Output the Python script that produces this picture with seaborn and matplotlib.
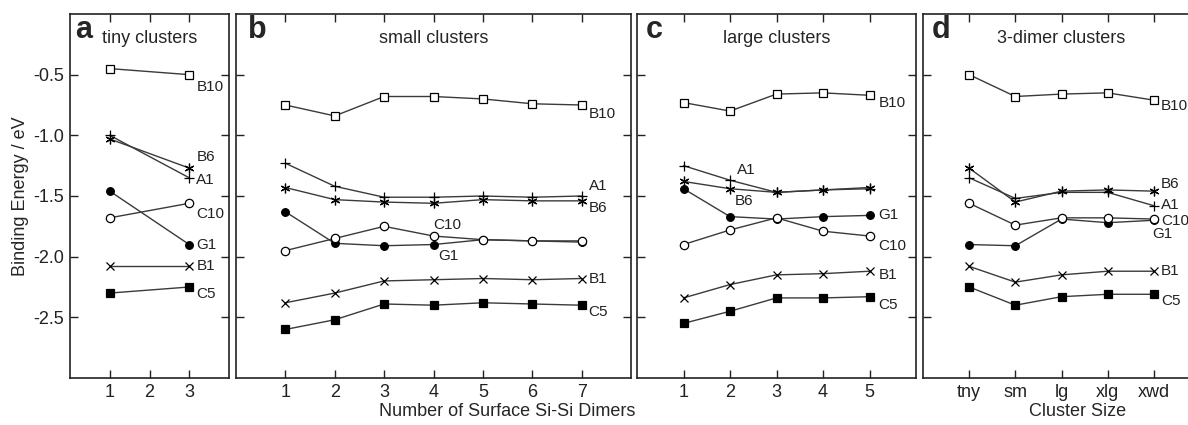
import matplotlib
matplotlib.use('Agg')
import matplotlib.pyplot as plt
import seaborn as sns
import pandas as pd

# Binding energies (eV)
series = ['B10', 'A1', 'B6', 'G1', 'C10', 'B1', 'C5']

# a: tiny clusters
a_x = [1, 3]
a_B10 = [-0.45, -0.50]
a_A1 = [-1.00, -1.35]
a_B6 = [-1.03, -1.27]
a_G1 = [-1.46, -1.90]
a_C10 = [-1.68, -1.56]
a_B1 = [-2.08, -2.08]
a_C5 = [-2.30, -2.25]

# b: small clusters
b_x = [1, 2, 3, 4, 5, 6, 7]
b_B10 = [-0.75, -0.84, -0.68, -0.68, -0.70, -0.74, -0.75]
b_A1 = [-1.23, -1.42, -1.51, -1.51, -1.50, -1.51, -1.50]
b_B6 = [-1.43, -1.53, -1.55, -1.56, -1.53, -1.54, -1.54]
b_G1 = [-1.63, -1.89, -1.91, -1.90, -1.86, -1.87, -1.88]
b_C10 = [-1.95, -1.85, -1.75, -1.83, -1.86, -1.87, -1.87]
b_B1 = [-2.38, -2.30, -2.20, -2.19, -2.18, -2.19, -2.18]
b_C5 = [-2.60, -2.52, -2.39, -2.40, -2.38, -2.39, -2.40]

# c: large clusters
c_x = [1, 2, 3, 4, 5]
c_B10 = [-0.73, -0.80, -0.66, -0.65, -0.67]
c_A1 = [-1.25, -1.37, -1.47, -1.45, -1.44]
c_B6 = [-1.38, -1.44, -1.47, -1.45, -1.43]
c_G1 = [-1.44, -1.67, -1.69, -1.67, -1.66]
c_C10 = [-1.90, -1.78, -1.68, -1.79, -1.83]
c_B1 = [-2.34, -2.23, -2.15, -2.14, -2.12]
c_C5 = [-2.55, -2.45, -2.34, -2.34, -2.33]

# d: 3-dimer clusters
d_sizes = ['tny', 'sm', 'lg', 'xlg', 'xwd']
d_B10 = [-0.50, -0.68, -0.66, -0.65, -0.71]
d_A1 = [-1.35, -1.52, -1.47, -1.47, -1.58]
d_B6 = [-1.27, -1.55, -1.46, -1.45, -1.46]
d_G1 = [-1.90, -1.91, -1.69, -1.72, -1.70]
d_C10 = [-1.56, -1.74, -1.68, -1.68, -1.69]
d_B1 = [-2.08, -2.21, -2.15, -2.12, -2.12]
d_C5 = [-2.25, -2.40, -2.33, -2.31, -2.31]
d_x = list(range(1, len(d_sizes) + 1))

panels = [
    ('a', 'tiny clusters', a_x, [a_B10, a_A1, a_B6, a_G1, a_C10, a_B1, a_C5]),
    ('b', 'small clusters', b_x, [b_B10, b_A1, b_B6, b_G1, b_C10, b_B1, b_C5]),
    ('c', 'large clusters', c_x, [c_B10, c_A1, c_B6, c_G1, c_C10, c_B1, c_C5]),
    ('d', '3-dimer clusters', d_x, [d_B10, d_A1, d_B6, d_G1, d_C10, d_B1, d_C5]),
]

# marker look per series
marker_styles = {
    'B10': dict(marker='s', markersize=6, markerfacecolor='white'),
    'A1': dict(marker='+', markersize=7),
    'B6': dict(marker=(6, 2, 0), markersize=7),
    'G1': dict(marker='o', markersize=5.5, markerfacecolor='black'),
    'C10': dict(marker='o', markersize=6, markerfacecolor='white'),
    'B1': dict(marker='x', markersize=6),
    'C5': dict(marker='s', markersize=5.5, markerfacecolor='black'),
}

# label placement: (point index, dx px, dy px)
label_pos = {
    'a': {'B10': (-1, 7, -12), 'A1': (-1, 7, -2), 'B6': (-1, 7, 11), 'G1': (-1, 7, 0),
          'C10': (-1, 7, -11), 'B1': (-1, 7, 0), 'C5': (-1, 7, -7)},
    'b': {'B10': (-1, 7, -9), 'A1': (-1, 7, 10), 'B6': (-1, 7, -7), 'G1': (3, 5, -11),
          'C10': (3, 0, 11), 'B1': (-1, 7, 0), 'C5': (-1, 7, -7)},
    'c': {'B10': (-1, 9, -8), 'A1': (1, 7, 10), 'B6': (1, 5, -12), 'G1': (-1, 9, 0),
          'C10': (-1, 9, -10), 'B1': (-1, 9, -4), 'C5': (-1, 9, -8)},
    'd': {'B10': (-1, 7, -6), 'A1': (-1, 7, 1), 'B6': (-1, 7, 7), 'G1': (-1, -2, -14),
          'C10': (-1, 7, -1.5), 'B1': (-1, 7, 0), 'C5': (-1, 7, -7)},
}

sns.set_style('ticks')
plt.rcParams['font.family'] = ['Liberation Sans', 'DejaVu Sans']
plt.rcParams['axes.unicode_minus'] = False

fig = plt.figure(figsize=(11.88, 4.25), dpi=100)

# axes boxes in pixels (left, right); panel d runs off the right edge
boxes = [(70, 229), (236, 631), (637, 916), (923, 1200)]
W, H = 1188, 425
bottom, top = 378, 14

for (letter, title, xs, vals), (l, r) in zip(panels, boxes):
    ax = fig.add_axes([l / W, (H - bottom) / H, (r - l) / W, (bottom - top) / H])
    for name, ys in zip(series, vals):
        df = pd.DataFrame({'x': xs, 'y': ys})
        sns.lineplot(data=df, x='x', y='y', ax=ax, color='#3a3a3a', linewidth=1.0,
                     markeredgecolor='black', markeredgewidth=0.9,
                     **marker_styles[name])
        idx, dx, dy = label_pos[letter][name]
        ax.annotate(name, xy=(xs[idx], ys[idx]), xytext=(dx, dy),
                    textcoords='offset pixels', ha='left', va='center',
                    fontsize=11, color='#222222')

    ax.set_xlim(0, len(xs) + 1 if letter != 'a' else 4)
    ax.set_ylim(-3.0, 0.0)
    ax.set_xticks(xs if letter != 'a' else [1, 2, 3])
    if letter == 'd':
        ax.set_xticklabels(d_sizes)
    ax.set_yticks([-2.5, -2.0, -1.5, -1.0, -0.5])
    ax.tick_params(direction='in', length=6, width=1, top=True, right=True,
                   labelsize=13, pad=4, colors='#222222')
    for sp in ax.spines.values():
        sp.set_linewidth(1.2)
        sp.set_color('#222222')
    ax.set_xlabel('')
    if letter == 'a':
        ax.set_yticklabels(['-2.5', '-2.0', '-1.5', '-1.0', '-0.5'])
        ax.set_ylabel('Binding Energy / eV', fontsize=13, labelpad=3)
    else:
        ax.set_ylabel('')
        ax.tick_params(labelleft=False)
    ax.text(0.03, 0.997, letter, transform=ax.transAxes, ha='left', va='top',
            fontsize=22, fontweight='bold')
    ax.text(0.5, 0.934, title, transform=ax.transAxes, ha='center', va='center',
            fontsize=13)

fig.text(507 / W, 1 - 412 / H, 'Number of Surface Si-Si Dimers', ha='center',
         va='center', fontsize=13)
fig.text(1078 / W, 1 - 412 / H, 'Cluster Size', ha='center', va='center', fontsize=13)

plt.savefig('out.png', dpi=100)
plt.close()
